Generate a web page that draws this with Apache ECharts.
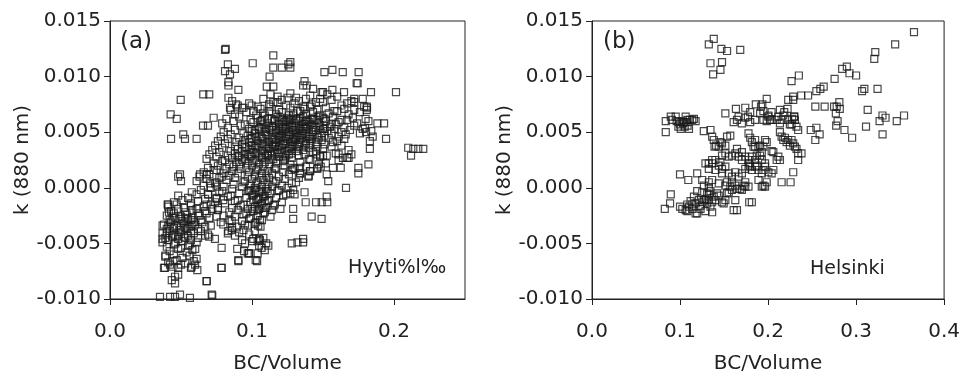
<!DOCTYPE html>
<html>
<head>
<meta charset="utf-8">
<title>k (880 nm) vs BC/Volume</title>
<script src="https://cdn.jsdelivr.net/npm/echarts@6/dist/echarts.min.js"></script>
<style>
  html, body { margin: 0; padding: 0; background: #fff; }
  #chart { width: 963px; height: 379px; }
</style>
</head>
<body>
<div id="chart"></div>
<script>
// tick values
const yTicks = [-0.01, -0.005, 0, 0.005, 0.01, 0.015];
const xTicksA = [0, 0.1, 0.2];
const xTicksB = [0, 0.1, 0.2, 0.3, 0.4];

// panel (a) Hyytiala, [BC/Volume, k]
const hyytialaPoints = [
  // sparse points
  [0.081,0.0124],[0.0815,0.0125],[0.115,0.0119],[0.127,0.0113],[0.1005,0.0112],[0.115,0.0108],[0.121,0.0108],[0.1256,0.0111],[0.127,0.0108],
  [0.083,0.0111],[0.081,0.0105],[0.088,0.0107],[0.0845,0.0102],[0.0834,0.0095],[0.0834,0.0092],[0.0904,0.0088],[0.1124,0.0100],[0.1104,0.0091],[0.115,0.0091],
  [0.0498,0.0079],[0.0657,0.0084],[0.0699,0.0084],[0.0427,0.0066],[0.047,0.0062],[0.043,0.0044],[0.0516,0.0048],[0.0528,0.0044],[0.061,0.0044],
  [0.0655,0.0056],[0.069,0.0056],[0.073,0.0063],[0.0834,0.0081],[0.0888,0.0075],[0.0845,0.0072],[0.093,0.0072],[0.0998,0.0074],
  [0.151,0.0104],[0.1566,0.0106],[0.1639,0.0104],[0.1751,0.0104],[0.1737,0.0094],[0.1744,0.0094],[0.1566,0.0088],[0.1648,0.0086],[0.1838,0.0086],[0.2014,0.0086],
  [0.172,0.0080],[0.172,0.0077],[0.1808,0.0073],[0.1808,0.0070],[0.1883,0.0058],[0.193,0.0058],[0.1944,0.0044],[0.185,0.0046],[0.183,0.0042],[0.183,0.0035],
  [0.210,0.0036],[0.2136,0.0035],[0.2171,0.0035],[0.2206,0.0035],[0.212,0.0029],
  [0.1796,0.0054],[0.1803,0.0050],[0.137,0.0096],[0.1385,0.0092],[0.136,0.0092],[0.143,0.0089],[0.149,0.0086],[0.150,0.0086],
  [0.161,0.0030],[0.164,0.0027],[0.168,0.0027],[0.1526,0.0029],[0.148,0.0029],[0.1455,0.0030],
  [0.0493,0.0012],[0.0500,0.0006],[0.0480,0.0010],[0.0406,-0.0015],[0.0415,-0.0022],
  [0.0786,-0.0054],[0.0786,-0.0072],[0.0681,-0.0084],[0.0716,-0.0096],
  [0.0352,-0.0098],[0.0423,-0.0098],[0.0458,-0.0098],[0.0493,-0.0096],[0.0563,-0.0099],
  [0.0458,-0.0080],[0.048,-0.0078],[0.0435,-0.0083],[0.0458,-0.0086],
  [0.0387,-0.0072],[0.0423,-0.0069],[0.048,-0.0072],[0.0446,-0.0066],[0.0575,-0.0071],[0.0615,-0.0074],[0.0599,-0.0069],
  [0.0904,-0.0065],[0.0904,-0.0066],[0.1026,-0.0065],[0.0979,-0.0059],[0.0944,-0.0057],[0.0896,-0.0055],
  [0.1068,-0.0054],[0.1115,-0.0052],[0.1056,-0.0047],[0.108,-0.0045],[0.1009,-0.0046],[0.0951,-0.0050],
  [0.0951,-0.0033],[0.1044,-0.0034],[0.1056,-0.0029],[0.0857,-0.0038],[0.0892,-0.0035],[0.0857,-0.0030],[0.0833,-0.0039],[0.0798,-0.0033],
  [0.0739,-0.0046],[0.0699,-0.0044],
  [0.0634,0.0012],[0.0681,0.0012],[0.0751,0.0016],[0.0786,0.0010],[0.0704,0.0004],[0.0751,0.0001],[0.0692,-0.0006],[0.0751,-0.0009],[0.0798,-0.0011],
  [0.182,0.0021],[0.1749,0.0018],[0.1749,0.0013],[0.1662,0.0000],
  [0.1625,0.0018],[0.157,0.0018],[0.1526,0.0012],[0.1537,0.0006],[0.1408,0.0015],[0.1397,0.0010],[0.1338,0.0013],[0.1338,0.0018],[0.129,0.0018],[0.146,0.0018],[0.1484,0.0019],
  [0.129,-0.0002],[0.130,-0.0006],[0.137,-0.0004],[0.127,-0.0005],
  [0.1378,-0.0013],[0.1451,-0.0013],[0.1491,-0.0013],[0.153,-0.0013],[0.1526,-0.0008],
  [0.129,-0.0019],[0.129,-0.0028],[0.142,-0.0026],[0.149,-0.0028],
  [0.128,-0.0050],[0.132,-0.0049],[0.136,-0.0049],[0.136,-0.0046],
  [0.1036,-0.0066],[0.098,-0.0059],[0.0785,-0.0072],[0.068,-0.0084],[0.072,-0.0097],
  [0.038,-0.0072],[0.039,-0.0061],[0.037,-0.0046],[0.037,-0.0034],[0.041,-0.0015],[0.0576,-0.0004],
  [0.105,-0.0046],[0.110,-0.0050],[0.105,-0.0052],[0.109,-0.0056],[0.104,-0.0048],[0.097,-0.0059],[0.104,-0.0059],
  [0.076,-0.0020],[0.080,-0.0025],[0.084,-0.0029],[0.078,-0.0031],[0.086,-0.0036],[0.091,-0.0040],[0.088,-0.0043],[0.083,-0.0041],[0.094,-0.0038],[0.098,-0.0042],[0.102,-0.0039],[0.093,-0.0047],[0.100,-0.0048],
  // main band
  [0.113,0.0084],[0.118,0.0082],[0.127,0.0085],[0.131,0.0081],[0.141,0.0083],[0.148,0.0080],[0.153,0.0084],[0.160,0.0082],
  [0.086,0.0078],[0.108,0.0080],[0.115,0.0077],[0.121,0.0079],[0.125,0.0081],[0.133,0.0078],[0.138,0.0080],[0.145,0.0077],[0.156,0.0079],[0.170,0.0078],[0.178,0.0080],
  [0.090,0.0074],[0.098,0.0076],[0.104,0.0073],[0.112,0.0075],[0.118,0.0077],[0.124,0.0074],[0.130,0.0076],[0.136,0.0073],[0.142,0.0075],[0.150,0.0077],[0.163,0.0074],[0.167,0.0076],[0.179,0.0073],
  [0.085,0.0070],[0.094,0.0072],[0.101,0.0069],[0.106,0.0071],[0.113,0.0073],[0.119,0.0070],[0.127,0.0072],[0.132,0.0069],[0.137,0.0071],[0.141,0.0073],[0.146,0.0070],[0.152,0.0072],[0.158,0.0069],[0.165,0.0071],[0.172,0.0070],[0.181,0.0072],
  [0.088,0.0066],[0.096,0.0068],[0.103,0.0065],[0.108,0.0067],[0.112,0.0069],[0.117,0.0066],[0.121,0.0068],[0.126,0.0065],[0.129,0.0067],[0.134,0.0069],[0.138,0.0066],[0.143,0.0068],[0.147,0.0065],[0.154,0.0067],[0.160,0.0069],[0.168,0.0066],[0.176,0.0068],
  [0.082,0.0062],[0.091,0.0064],[0.099,0.0061],[0.104,0.0063],[0.109,0.0065],[0.114,0.0062],[0.118,0.0064],[0.122,0.0061],[0.125,0.0063],[0.129,0.0065],[0.132,0.0062],[0.136,0.0064],[0.139,0.0061],[0.143,0.0063],[0.148,0.0065],[0.151,0.0062],[0.157,0.0064],[0.163,0.0061],[0.171,0.0063],[0.180,0.0062],
  [0.079,0.0058],[0.087,0.0060],[0.095,0.0057],[0.101,0.0059],[0.107,0.0061],[0.111,0.0058],[0.116,0.0060],[0.119,0.0057],[0.123,0.0059],[0.126,0.0061],[0.130,0.0058],[0.133,0.0060],[0.137,0.0057],[0.140,0.0059],[0.144,0.0061],[0.147,0.0058],[0.152,0.0060],[0.156,0.0057],[0.161,0.0059],[0.167,0.0061],[0.174,0.0058],[0.182,0.0060],
  [0.083,0.0054],[0.092,0.0056],[0.098,0.0053],[0.104,0.0055],[0.108,0.0057],[0.112,0.0054],[0.115,0.0056],[0.119,0.0053],[0.122,0.0055],[0.125,0.0057],[0.128,0.0054],[0.131,0.0056],[0.134,0.0053],[0.137,0.0055],[0.141,0.0057],[0.144,0.0054],[0.148,0.0056],[0.151,0.0053],[0.155,0.0055],[0.159,0.0057],[0.165,0.0054],[0.172,0.0056],[0.178,0.0053],
  [0.080,0.0050],[0.088,0.0052],[0.094,0.0049],[0.100,0.0051],[0.105,0.0053],[0.109,0.0050],[0.113,0.0052],[0.117,0.0049],[0.120,0.0051],[0.123,0.0053],[0.126,0.0050],[0.129,0.0052],[0.132,0.0049],[0.135,0.0051],[0.138,0.0053],[0.142,0.0050],[0.145,0.0052],[0.149,0.0049],[0.153,0.0051],[0.158,0.0053],[0.163,0.0050],[0.169,0.0052],[0.176,0.0049],[0.184,0.0051],
  [0.078,0.0046],[0.085,0.0048],[0.091,0.0045],[0.097,0.0047],[0.102,0.0049],[0.106,0.0046],[0.110,0.0048],[0.114,0.0045],[0.118,0.0047],[0.121,0.0049],[0.124,0.0046],[0.127,0.0048],[0.130,0.0045],[0.133,0.0047],[0.136,0.0049],[0.140,0.0046],[0.143,0.0048],[0.147,0.0045],[0.151,0.0047],[0.156,0.0049],[0.161,0.0046],[0.166,0.0048],
  [0.076,0.0042],[0.083,0.0044],[0.089,0.0041],[0.095,0.0043],[0.100,0.0045],[0.104,0.0042],[0.108,0.0044],[0.112,0.0041],[0.116,0.0043],[0.119,0.0045],[0.122,0.0042],[0.125,0.0044],[0.128,0.0041],[0.131,0.0043],[0.134,0.0045],[0.138,0.0042],[0.141,0.0044],[0.145,0.0041],[0.149,0.0043],[0.154,0.0045],[0.160,0.0042],[0.165,0.0044],
  [0.074,0.0038],[0.081,0.0040],[0.088,0.0037],[0.093,0.0039],[0.098,0.0041],[0.102,0.0038],[0.106,0.0040],[0.110,0.0037],[0.114,0.0039],[0.117,0.0041],[0.120,0.0038],[0.123,0.0040],[0.127,0.0037],[0.130,0.0039],[0.134,0.0041],[0.137,0.0038],[0.141,0.0040],[0.146,0.0037],[0.151,0.0039],[0.157,0.0041],[0.163,0.0038],
  [0.072,0.0034],[0.079,0.0036],[0.085,0.0033],[0.090,0.0035],[0.095,0.0037],[0.099,0.0034],[0.103,0.0036],[0.107,0.0033],[0.111,0.0035],[0.115,0.0037],[0.118,0.0034],[0.121,0.0036],[0.125,0.0033],[0.128,0.0035],[0.132,0.0037],[0.136,0.0034],[0.140,0.0036],[0.145,0.0033],[0.150,0.0035],[0.156,0.0037],[0.168,0.0034],
  [0.070,0.0030],[0.077,0.0032],[0.083,0.0029],[0.088,0.0031],[0.093,0.0033],[0.097,0.0030],[0.101,0.0032],[0.105,0.0029],[0.109,0.0031],[0.113,0.0033],[0.116,0.0030],[0.120,0.0032],[0.124,0.0029],[0.128,0.0031],[0.132,0.0033],[0.137,0.0030],[0.143,0.0032],[0.150,0.0029],[0.159,0.0031],[0.170,0.0030],
  [0.068,0.0026],[0.075,0.0028],[0.081,0.0025],[0.086,0.0027],[0.091,0.0029],[0.095,0.0026],[0.099,0.0028],[0.103,0.0025],[0.107,0.0027],[0.111,0.0029],[0.115,0.0026],[0.119,0.0028],[0.123,0.0025],[0.128,0.0027],[0.133,0.0029],[0.140,0.0026],[0.148,0.0028],[0.161,0.0025],[0.167,0.0027],
  [0.073,0.0022],[0.079,0.0024],[0.084,0.0021],[0.089,0.0023],[0.093,0.0025],[0.097,0.0022],[0.101,0.0024],[0.105,0.0021],[0.109,0.0023],[0.113,0.0025],[0.117,0.0022],[0.122,0.0024],[0.127,0.0021],[0.134,0.0023],[0.141,0.0025],[0.152,0.0022],
  [0.069,0.0018],[0.076,0.0020],[0.082,0.0017],[0.087,0.0019],[0.091,0.0021],[0.096,0.0018],[0.100,0.0020],[0.104,0.0017],[0.108,0.0019],[0.112,0.0021],[0.117,0.0018],[0.123,0.0020],[0.130,0.0017],[0.138,0.0019],[0.147,0.0021],
  [0.066,0.0014],[0.073,0.0016],[0.080,0.0013],[0.086,0.0015],[0.092,0.0017],[0.098,0.0014],[0.103,0.0016],[0.107,0.0013],[0.111,0.0015],[0.116,0.0017],[0.122,0.0014],[0.128,0.0016],[0.134,0.0013],[0.141,0.0015],[0.146,0.0017],
  [0.063,0.0010],[0.070,0.0012],[0.077,0.0009],[0.084,0.0011],[0.090,0.0013],[0.097,0.0010],[0.102,0.0012],[0.106,0.0009],[0.110,0.0011],[0.114,0.0013],[0.119,0.0010],[0.126,0.0012],[0.133,0.0009],[0.140,0.0011],
  [0.061,0.0006],[0.068,0.0008],[0.075,0.0005],[0.082,0.0007],[0.088,0.0009],[0.095,0.0006],[0.100,0.0008],[0.104,0.0005],[0.108,0.0007],[0.112,0.0009],[0.117,0.0006],[0.123,0.0008],[0.131,0.0005],
  [0.066,0.0002],[0.074,0.0004],[0.080,0.0001],[0.087,0.0003],[0.094,0.0005],[0.099,0.0002],[0.103,0.0004],[0.107,0.0001],[0.111,0.0003],[0.115,0.0005],[0.121,0.0002],[0.128,0.0004],
  [0.064,-0.0002],[0.071,0.0000],[0.079,-0.0003],[0.086,-0.0001],[0.093,0.0001],[0.098,-0.0002],[0.102,0.0000],[0.106,-0.0003],[0.110,-0.0001],[0.114,0.0001],[0.119,-0.0002],[0.125,0.0000],
  [0.069,-0.0006],[0.077,-0.0004],[0.085,-0.0007],[0.091,-0.0005],[0.097,-0.0003],[0.101,-0.0006],[0.105,-0.0004],[0.109,-0.0007],[0.113,-0.0005],[0.118,-0.0003],[0.124,-0.0006],
  [0.075,-0.0010],[0.083,-0.0008],[0.090,-0.0011],[0.096,-0.0009],[0.100,-0.0007],[0.104,-0.0010],[0.108,-0.0008],[0.112,-0.0011],[0.117,-0.0009],[0.122,-0.0007],
  [0.081,-0.0014],[0.088,-0.0012],[0.094,-0.0015],[0.099,-0.0013],[0.103,-0.0011],[0.107,-0.0014],[0.111,-0.0012],[0.116,-0.0015],[0.121,-0.0013],
  [0.086,-0.0018],[0.092,-0.0016],[0.097,-0.0019],[0.102,-0.0017],[0.106,-0.0015],[0.110,-0.0018],[0.115,-0.0016],[0.120,-0.0019],
  [0.084,-0.0022],[0.090,-0.0020],[0.096,-0.0023],[0.101,-0.0021],[0.105,-0.0019],[0.109,-0.0022],[0.114,-0.0020],
  [0.088,-0.0026],[0.094,-0.0024],[0.099,-0.0027],[0.104,-0.0025],[0.108,-0.0023],[0.113,-0.0026],
  [0.093,-0.0030],[0.098,-0.0028],[0.103,-0.0031],[0.107,-0.0029],
  [0.097,-0.0034],[0.102,-0.0032],[0.106,-0.0035],
  // densest part of the band
  [0.106,0.0060],[0.111,0.0062],[0.116,0.0061],[0.120,0.0063],[0.124,0.0060],[0.127,0.0062],[0.131,0.0061],[0.134,0.0063],[0.138,0.0060],[0.142,0.0062],[0.146,0.0061],[0.150,0.0063],
  [0.102,0.0052],[0.106,0.0054],[0.110,0.0053],[0.114,0.0055],[0.117,0.0052],[0.121,0.0054],[0.124,0.0053],[0.127,0.0055],[0.130,0.0052],[0.133,0.0054],[0.136,0.0053],[0.139,0.0055],[0.143,0.0052],[0.147,0.0054],[0.150,0.0053],
  [0.099,0.0044],[0.103,0.0046],[0.107,0.0045],[0.111,0.0047],[0.115,0.0044],[0.120,0.0046],[0.123,0.0045],[0.126,0.0047],[0.129,0.0044],[0.132,0.0046],[0.135,0.0045],[0.139,0.0047],[0.142,0.0044],[0.146,0.0046],
  [0.096,0.0036],[0.100,0.0038],[0.104,0.0037],[0.108,0.0039],[0.112,0.0036],[0.116,0.0038],[0.119,0.0037],[0.122,0.0039],[0.126,0.0036],[0.129,0.0038],[0.133,0.0037],[0.138,0.0039],
  [0.090,0.0028],[0.095,0.0030],[0.099,0.0029],[0.103,0.0031],[0.107,0.0028],[0.111,0.0030],[0.114,0.0029],[0.118,0.0031],[0.122,0.0028],[0.126,0.0030],
  [0.099,-0.0003],[0.103,-0.0002],[0.107,-0.0004],[0.111,-0.0003],[0.101,-0.0011],[0.105,-0.0010],[0.109,-0.0012],[0.100,-0.0019],[0.104,-0.0020],[0.108,-0.0018],
  // low cluster
  [0.048,-0.0007],[0.055,-0.0009],[0.061,-0.0006],[0.067,-0.0010],
  [0.045,-0.0013],[0.051,-0.0011],[0.057,-0.0014],[0.062,-0.0012],[0.068,-0.0015],[0.074,-0.0013],
  [0.041,-0.0017],[0.047,-0.0015],[0.052,-0.0018],[0.057,-0.0016],[0.061,-0.0019],[0.066,-0.0017],[0.071,-0.0015],[0.076,-0.0018],
  [0.043,-0.0021],[0.048,-0.0019],[0.053,-0.0022],[0.058,-0.0020],[0.062,-0.0023],[0.067,-0.0021],[0.072,-0.0019],
  [0.040,-0.0025],[0.045,-0.0023],[0.050,-0.0026],[0.054,-0.0024],[0.058,-0.0027],[0.063,-0.0025],[0.068,-0.0023],[0.075,-0.0026],
  [0.042,-0.0029],[0.046,-0.0027],[0.051,-0.0030],[0.055,-0.0028],[0.059,-0.0031],[0.064,-0.0029],[0.070,-0.0027],
  [0.038,-0.0033],[0.043,-0.0031],[0.047,-0.0034],[0.052,-0.0032],[0.056,-0.0035],[0.060,-0.0033],[0.065,-0.0031],[0.071,-0.0034],
  [0.040,-0.0037],[0.044,-0.0035],[0.049,-0.0038],[0.053,-0.0036],[0.057,-0.0039],[0.062,-0.0037],[0.067,-0.0035],
  [0.037,-0.0041],[0.042,-0.0039],[0.046,-0.0042],[0.050,-0.0040],[0.055,-0.0043],[0.059,-0.0041],[0.064,-0.0039],[0.069,-0.0042],
  [0.039,-0.0045],[0.044,-0.0043],[0.048,-0.0046],[0.052,-0.0044],[0.057,-0.0047],[0.062,-0.0045],[0.067,-0.0043],
  [0.037,-0.0049],[0.041,-0.0047],[0.046,-0.0050],[0.051,-0.0048],[0.056,-0.0051],[0.061,-0.0049],
  [0.040,-0.0053],[0.045,-0.0051],[0.050,-0.0054],[0.055,-0.0052],[0.060,-0.0055],
  [0.042,-0.0057],[0.048,-0.0055],[0.054,-0.0058],[0.058,-0.0056],
  [0.039,-0.0062],[0.045,-0.0060],[0.051,-0.0063],[0.056,-0.0061],[0.061,-0.0064],
  [0.041,-0.0067],[0.047,-0.0065],[0.053,-0.0068],[0.059,-0.0066],
  [0.044,-0.0071],[0.050,-0.0069],[0.057,-0.0072],
  [0.044,-0.0026],[0.049,-0.0028],[0.053,-0.0027],[0.057,-0.0029],[0.041,-0.0034],[0.045,-0.0036],[0.050,-0.0035],[0.054,-0.0037],[0.058,-0.0034],
  [0.040,-0.0042],[0.044,-0.0044],[0.048,-0.0043],[0.053,-0.0045]
];

// panel (b) Helsinki
const helsinkiPoints = [
  [0.1327,0.0129],[0.1383,0.0134],[0.147,0.0125],[0.1534,0.0123],[0.1684,0.0124],[0.1346,0.0112],[0.1477,0.0113],[0.1459,0.0106],[0.1376,0.0102],
  [0.3658,0.0140],[0.3444,0.0129],[0.3218,0.0122],[0.3207,0.0116],
  [0.2895,0.0109],[0.2842,0.0107],[0.2925,0.0103],[0.300,0.0101],[0.2756,0.0098],
  [0.2267,0.0096],[0.235,0.0101],
  [0.2549,0.0087],[0.2632,0.0091],[0.2455,0.0083],[0.2376,0.0083],[0.2286,0.0082],[0.2286,0.0079],[0.2594,0.0089],
  [0.3068,0.0087],[0.3094,0.0089],[0.3244,0.0089],
  [0.3132,0.0070],[0.3113,0.0055],[0.330,0.0065],[0.3267,0.0060],[0.3335,0.0063],[0.3301,0.0048],[0.3462,0.0060],[0.3545,0.0065],
  [0.2868,0.0052],[0.2955,0.0045],
  [0.277,0.0067],[0.279,0.0060],[0.281,0.0077],[0.278,0.0073],[0.2815,0.0071],[0.275,0.0073],[0.2774,0.0056],
  [0.2537,0.0073],[0.2643,0.0073],
  [0.2485,0.0052],[0.2549,0.0054],[0.2586,0.0048],[0.2537,0.0043],
  [0.2342,0.0052],[0.2248,0.0057],[0.2274,0.0062],[0.2297,0.0064],[0.2184,0.0068],[0.2229,0.0079],
  [0.0838,0.0060],[0.0895,0.0064],[0.0906,0.0061],[0.0962,0.0060],[0.0981,0.0055],[0.1000,0.0057],[0.1008,0.0053],[0.1034,0.0058],[0.1064,0.0064],
  [0.1071,0.0059],[0.1086,0.0056],[0.1102,0.0053],[0.1113,0.0061],[0.1139,0.0061],[0.1158,0.0062],[0.1177,0.0060],[0.1053,0.0055],[0.1019,0.0060],
  [0.0838,0.0050],[0.0951,0.0064],[0.0989,0.0059],[0.1045,0.0059],[0.1083,0.0061],
  [0.1515,0.0067],[0.1635,0.0071],[0.1741,0.0072],[0.1861,0.0075],[0.192,0.0073],[0.1935,0.0075],[0.1985,0.0080],[0.204,0.0068],[0.2135,0.0070],
  [0.2222,0.0071],[0.2297,0.0064],[0.1947,0.0069],[0.2004,0.0065],[0.1797,0.0068],
  [0.1609,0.0059],[0.1647,0.0061],[0.1665,0.0064],[0.1703,0.0058],[0.1741,0.0063],[0.1771,0.0064],[0.1797,0.0059],[0.1853,0.0061],[0.191,0.0067],
  [0.1947,0.0061],[0.1985,0.0060],[0.2004,0.0064],[0.2023,0.0061],[0.2041,0.0061],[0.2098,0.0061],[0.2117,0.0064],[0.2135,0.0058],[0.2154,0.0061],
  [0.2173,0.0065],[0.2229,0.0061],[0.2267,0.0057],[0.2305,0.0061],[0.2323,0.0055],
  [0.127,0.0051],[0.1346,0.0052],[0.1365,0.0046],[0.1383,0.0043],[0.141,0.0038],[0.144,0.0037],[0.1477,0.0040],[0.1515,0.0038],[0.1534,0.0046],
  [0.1571,0.0047],[0.1392,0.0037],[0.1459,0.0041],
  [0.1778,0.0049],[0.1797,0.0045],[0.1816,0.0041],[0.1835,0.0037],[0.1853,0.0037],[0.1891,0.0037],[0.191,0.0038],[0.1929,0.0032],[0.1947,0.0037],
  [0.1966,0.0043],[0.1985,0.0041],[0.1853,0.0043],
  [0.2135,0.0050],[0.2154,0.0046],[0.2173,0.0043],[0.2192,0.0045],[0.2211,0.0041],[0.2229,0.0043],[0.2248,0.0038],[0.2267,0.0043],[0.2286,0.0040],
  [0.2305,0.0037],[0.2323,0.0035],[0.2342,0.0031],[0.238,0.0031],[0.2342,0.0025],[0.2286,0.0014],[0.2256,0.0005],[0.2154,0.0005],
  [0.2041,0.0033],[0.206,0.0032],[0.2098,0.0025],[0.2117,0.0028],[0.2135,0.0025],
  [0.1477,0.0029],[0.1515,0.0031],[0.159,0.0029],[0.1628,0.0031],[0.1665,0.0028],[0.1703,0.0025],[0.1741,0.0028],[0.1778,0.0025],[0.1786,0.0022],
  [0.1853,0.0025],[0.1872,0.0029],[0.191,0.0029],[0.1929,0.0025],[0.1966,0.0022],[0.1327,0.0022],[0.1365,0.0025],[0.1402,0.0025],[0.1459,0.0023],
  [0.1553,0.0028],[0.1816,0.0028],[0.1647,0.0035],[0.1703,0.0032],
  [0.1289,0.0022],[0.1327,0.0017],[0.1365,0.0022],[0.1402,0.0016],[0.144,0.0020],[0.1477,0.0017],[0.1515,0.0019],[0.1553,0.0013],[0.159,0.0010],
  [0.1628,0.0014],[0.1665,0.0010],[0.1703,0.0013],[0.1741,0.0017],[0.1778,0.0020],[0.1797,0.0019],[0.1816,0.0016],[0.1853,0.0019],[0.1872,0.0020],
  [0.1891,0.0016],[0.1929,0.0013],[0.1947,0.0016],[0.1966,0.0019],[0.2004,0.0014],[0.2041,0.0013],[0.206,0.0016],
  [0.159,0.0005],[0.1628,0.0002],[0.1647,-0.0001],[0.1684,-0.0001],[0.1722,0.0002],[0.1741,0.0005],[0.1778,0.0001],[0.1891,0.0007],[0.1929,0.0001],
  [0.1966,0.0001],[0.1985,0.0005],[0.1947,0.0002],[0.1195,0.0013],[0.1252,0.0007],[0.1271,0.0002],[0.1327,0.0005],[0.1365,0.0007],[0.144,0.0004],
  [0.1515,0.0002],[0.1477,0.0013],[0.1534,0.0005],
  [0.1786,-0.0013],[0.1816,-0.0013],[0.1628,-0.0011],[0.1647,-0.0020],[0.1609,-0.0020],
  [0.0827,-0.0019],[0.0895,-0.0006],[0.0887,-0.0014],[0.1000,0.0012],[0.1094,0.0007],
  [0.1000,-0.0017],[0.1026,-0.0019],[0.1064,-0.0020],[0.1083,-0.0021],[0.1102,-0.0017],[0.1139,-0.0019],[0.1177,-0.0014],[0.1195,-0.0023],
  [0.1214,-0.0011],[0.1233,-0.0016],[0.1252,-0.0013],[0.1271,-0.0011],[0.1289,-0.0010],[0.1308,-0.0014],[0.1327,-0.0011],[0.1346,-0.0017],
  [0.1365,-0.0013],[0.1365,-0.0022],[0.1383,-0.0008],[0.1402,-0.0011],[0.1421,-0.0005],[0.144,-0.0007],[0.1477,-0.0013],[0.1496,-0.0014],
  [0.1515,-0.0011],[0.1534,-0.0005],[0.1553,-0.0004],[0.1571,0.0001],[0.159,-0.0002],[0.1703,-0.0002],[0.1741,0.0001],
  [0.1083,-0.0015],[0.1139,-0.0015],[0.1177,-0.0023],[0.1233,-0.0019],[0.1289,-0.0021],[0.1327,-0.0006],[0.1346,-0.0003],[0.1327,0.0000],
  [0.1308,-0.0005],[0.1252,-0.0004],[0.1195,-0.0003],[0.1158,-0.0008],[0.1120,-0.0012]
];

const ink = "#222";
const font = "DejaVu Sans";

function xAxisFor(gridIndex, max, ticks) {
  return {
    gridIndex: gridIndex,
    type: "value",
    min: 0,
    max: max,
    interval: 0.1,
    name: "BC/Volume",
    nameLocation: "middle",
    nameGap: 55,
    nameTextStyle: { color: ink, fontFamily: font, fontSize: 20 },
    axisLine: { onZero: false, lineStyle: { color: ink, width: 1 } },
    axisTick: { length: 6, customValues: ticks, lineStyle: { color: ink } },
    axisLabel: {
      customValues: ticks,
      margin: 23,
      color: ink,
      fontFamily: font,
      fontSize: 20,
      formatter: (v) => v.toFixed(1),
    },
    splitLine: { show: false },
  };
}

function yAxisFor(gridIndex) {
  return {
    gridIndex: gridIndex,
    type: "value",
    min: -0.01,
    max: 0.015,
    interval: 0.005,
    name: "k (880 nm)",
    nameLocation: "middle",
    nameGap: 76,
    nameTextStyle: { color: ink, fontFamily: font, fontSize: 20 },
    axisLine: { onZero: false, lineStyle: { color: ink, width: 1 } },
    axisTick: { length: 6, customValues: yTicks, lineStyle: { color: ink } },
    axisLabel: {
      customValues: yTicks,
      margin: 9,
      color: ink,
      fontFamily: font,
      fontSize: 20,
      formatter: (v) => (Math.abs(v) < 1e-9 ? "0.000" : v.toFixed(3)),
    },
    splitLine: { show: false },
  };
}

function scatterFor(index, data) {
  return {
    type: "scatter",
    xAxisIndex: index,
    yAxisIndex: index,
    data: data,
    symbol: "rect",
    symbolSize: 7,
    silent: true,
    itemStyle: { color: "rgba(0,0,0,0)", borderColor: "#1a1a1a", borderWidth: 1.2 },
  };
}

function label(text, x, y, size) {
  return {
    type: "text",
    left: x,
    top: y,
    style: { text: text, fill: ink, font: size + "px '" + font + "'" },
  };
}

const myChart = echarts.init(document.getElementById("chart"));
myChart.setOption({
  animation: false,
  grid: [
    { left: 110, top: 21, width: 355, height: 278, show: true, borderColor: ink, borderWidth: 1 },
    { left: 592, top: 21, width: 355, height: 278, show: true, borderColor: ink, borderWidth: 1 },
  ],
  xAxis: [xAxisFor(0, 0.25, xTicksA), xAxisFor(1, 0.4, xTicksB)],
  yAxis: [yAxisFor(0), yAxisFor(1)],
  series: [scatterFor(0, hyytialaPoints), scatterFor(1, helsinkiPoints)],
  graphic: [
    label("(a)", 120, 31, 23),
    label("(b)", 603, 31, 23),
    label("Hyyti%l‰", 348, 259, 19),
    label("Helsinki", 810, 260, 19),
  ],
});
</script>
</body>
</html>
